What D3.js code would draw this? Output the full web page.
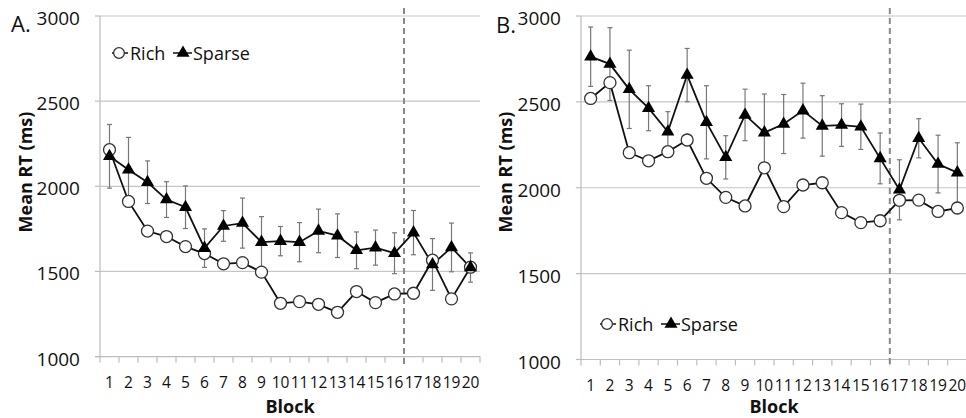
<!DOCTYPE html>
<html><head><meta charset="utf-8">
<script src="https://cdn.jsdelivr.net/npm/d3@7"></script>
<style>
body{margin:0;background:#fff}
svg{display:block}
text{font-family:"Open Sans",sans-serif;fill:#111}
</style>
</head><body>
<svg id="chart" width="966" height="418"></svg>
<script>
// ---- data ----
const blocks = [1,2,3,4,5,6,7,8,9,10,11,12,13,14,15,16,17,18,19,20];
const yTicks = [1000,1500,2000,2500,3000];
const seriesNames = ["Rich","Sparse"];
const panelLabels = ["A.","B."];
const xTitle = "Block";
const yTitle = "Mean RT (ms)";
const dividerAfterBlock = 16;

const richA   = [2215,1911,1737,1705,1646,1605,1545,1552,1496,1313,1323,1307,1260,1382,1317,1368,1372,1566,1339,1525];
const sparseA = [2176,2097,2024,1922,1877,1637,1767,1784,1672,1678,1672,1738,1710,1624,1640,1607,1728,1541,1641,1523];
const sparseErrA = [187,190,125,105,125,113,90,147,150,86,115,128,128,108,103,120,130,152,143,86];

const richB   = [2520,2612,2204,2157,2210,2278,2055,1944,1894,2116,1890,2016,2029,1855,1797,1808,1927,1928,1862,1882];
const sparseB = [2763,2720,2573,2463,2326,2656,2381,2177,2424,2321,2371,2449,2360,2365,2355,2171,1988,2288,2138,2088];
const sparseErrB = [173,212,228,131,117,155,213,126,150,225,172,160,176,124,132,148,175,114,168,174];

// ---- drawing ----
const svg = d3.select("#chart");

function drawPanel(cfg){
  const g = svg.append("g");
  const x = d3.scaleBand().domain(blocks).range([cfg.x0, cfg.x1]);
  const y = d3.scaleLinear().domain([1000,3000]).range([cfg.y1, cfg.y0]);
  const bw = x.bandwidth();
  const cx = d => x(d) + bw/2;

  // gridlines
  g.selectAll(".grid").data(yTicks.filter(t=>t>1000)).join("line")
    .attr("x1", cfg.x0).attr("x2", cfg.x1)
    .attr("y1", d=>y(d)).attr("y2", d=>y(d))
    .attr("stroke","#c6c6c6").attr("stroke-width",1.2);
  // axes lines
  g.append("line").attr("x1",cfg.x0).attr("x2",cfg.x0).attr("y1",y(3000)).attr("y2",y(1000))
    .attr("stroke","#bdbdbd").attr("stroke-width",1.2);
  g.append("line").attr("x1",cfg.x0-5).attr("x2",cfg.x1).attr("y1",y(1000)).attr("y2",y(1000))
    .attr("stroke","#bdbdbd").attr("stroke-width",1.2);
  // y ticks
  g.selectAll(".yt").data(yTicks).join("line")
    .attr("x1",cfg.x0-5).attr("x2",cfg.x0).attr("y1",d=>y(d)).attr("y2",d=>y(d))
    .attr("stroke","#bdbdbd").attr("stroke-width",1.2);
  g.selectAll(".yl").data(yTicks).join("text")
    .attr("x", cfg.x0-20).attr("y", d=>y(d)+9)
    .attr("text-anchor","end").attr("font-size",19).text(d=>d);
  // x ticks at band boundaries
  const bounds = blocks.map(b=>x(b)).concat([cfg.x0 + bw*blocks.length]);
  g.selectAll(".xt").data(bounds).join("line")
    .attr("x1",d=>d).attr("x2",d=>d).attr("y1",y(1000)).attr("y2",y(1000)+6)
    .attr("stroke","#bdbdbd").attr("stroke-width",1.2);
  g.selectAll(".xl").data(blocks).join("text")
    .attr("x", d=>cx(d)).attr("y", cfg.y1+31)
    .attr("text-anchor","middle").attr("font-size",15.5).text(d=>d);
  // titles
  g.append("text").attr("x",(cfg.x0+cfg.x1)/2).attr("y",413)
    .attr("text-anchor","middle").attr("font-size",18).attr("font-weight","bold").text(xTitle);
  g.append("text").attr("transform",`translate(${cfg.titleX},172) rotate(-90)`)
    .attr("text-anchor","middle").attr("font-size",18).attr("font-weight","bold").text(yTitle);
  g.append("text").attr("x",cfg.labelX).attr("y",cfg.labelY).attr("font-size",22).text(cfg.label);

  // dashed divider
  const dx = x(dividerAfterBlock+1);
  g.append("line").attr("x1",dx).attr("x2",dx).attr("y1",8).attr("y2",y(1000)+8)
    .attr("stroke","#8a8a8a").attr("stroke-width",2).attr("stroke-dasharray","6,4");

  // lines
  const line = d3.line().x((d,i)=>cx(blocks[i])).y(d=>y(d));
  g.append("path").datum(cfg.rich).attr("d",line).attr("fill","none").attr("stroke","#111").attr("stroke-width",1.8);
  g.append("path").datum(cfg.sparse).attr("d",line).attr("fill","none").attr("stroke","#111").attr("stroke-width",1.8);

  // error bars (sparse)
  const eb = g.selectAll(".eb").data(cfg.sparse.map((v,i)=>({b:blocks[i],v,e:cfg.err[i]}))).join("g");
  eb.append("line").attr("x1",d=>cx(d.b)).attr("x2",d=>cx(d.b)).attr("y1",d=>y(d.v+d.e)).attr("y2",d=>y(d.v-d.e))
    .attr("stroke","#777").attr("stroke-width",1.2);
  eb.append("line").attr("x1",d=>cx(d.b)-2.5).attr("x2",d=>cx(d.b)+2.5).attr("y1",d=>y(d.v+d.e)).attr("y2",d=>y(d.v+d.e))
    .attr("stroke","#777").attr("stroke-width",1.2);
  eb.append("line").attr("x1",d=>cx(d.b)-2.5).attr("x2",d=>cx(d.b)+2.5).attr("y1",d=>y(d.v-d.e)).attr("y2",d=>y(d.v-d.e))
    .attr("stroke","#777").attr("stroke-width",1.2);

  // markers
  g.selectAll(".rc").data(cfg.rich).join("circle")
    .attr("cx",(d,i)=>cx(blocks[i])).attr("cy",d=>y(d)).attr("r",6)
    .attr("fill","#fff").attr("stroke","#333").attr("stroke-width",1.3);
  const tri = d3.symbol().type(d3.symbolTriangle).size(74);
  g.selectAll(".st").data(cfg.sparse).join("path")
    .attr("d",tri).attr("transform",(d,i)=>`translate(${cx(blocks[i])},${y(d)})`)
    .attr("fill","#000");

  // legend
  const L = cfg.legend;
  g.append("line").attr("x1",L.x).attr("x2",L.x+16).attr("y1",L.y).attr("y2",L.y).attr("stroke","#111").attr("stroke-width",1.5);
  g.append("circle").attr("cx",L.x+7).attr("cy",L.y).attr("r",5.4).attr("fill","#fff").attr("stroke","#333").attr("stroke-width",1.3);
  g.append("text").attr("x",L.x+18).attr("y",L.y+6.5).attr("font-size",18).text(seriesNames[0]);
  g.append("line").attr("x1",L.x+61).attr("x2",L.x+80).attr("y1",L.y).attr("y2",L.y).attr("stroke","#111").attr("stroke-width",1.5);
  g.append("path").attr("d",tri).attr("transform",`translate(${L.x+71},${L.y})`).attr("fill","#000");
  g.append("text").attr("x",L.x+81).attr("y",L.y+6.5).attr("font-size",18).text(seriesNames[1]);
}

drawPanel({label:panelLabels[0], rich:richA, sparse:sparseA, err:sparseErrA,
  x0:100, x1:480, y0:16, y1:356.6, titleX:32, labelX:11, labelY:31.7,
  legend:{x:112, y:53}});
drawPanel({label:panelLabels[1], rich:richB, sparse:sparseB, err:sparseErrB,
  x0:581, x1:967, y0:16, y1:359.5, titleX:512, labelX:496, labelY:32.5,
  legend:{x:600, y:324}});
</script>
</body></html>
